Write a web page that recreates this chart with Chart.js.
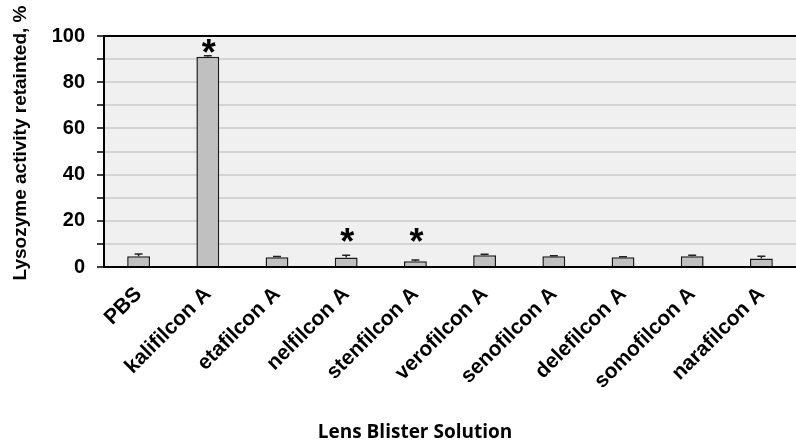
<!DOCTYPE html>
<html>
<head>
<meta charset="utf-8">
<script src="https://cdn.jsdelivr.net/npm/chart.js@4/dist/chart.umd.min.js"></script>
<style>
  html, body { margin: 0; padding: 0; background: #ffffff; }
  #wrap { width: 796px; height: 445px; position: relative; }
</style>
</head>
<body>
<div id="wrap"><canvas id="c" width="796" height="445"></canvas></div>
<script>
// ---- data ----
const categories = ['PBS', 'kalifilcon A', 'etafilcon A', 'nelfilcon A', 'stenfilcon A',
  'verofilcon A', 'senofilcon A', 'delefilcon A', 'somofilcon A', 'narafilcon A'];
const activityRetained = [4.7, 91.0, 4.2, 4.1, 2.5, 5.1, 4.7, 4.2, 4.7, 3.7];
const errorValues = [0.9, 0.4, 0.3, 1.0, 0.5, 0.4, 0.2, 0.2, 0.4, 1.0];
const significanceMarks = [null, 95.2, null, 13.6, 13.6, null, null, null, null, null];
const yTicks = [0, 20, 40, 60, 80, 100];
const xTitle = 'Lens Blister Solution';
const yTitle = 'Lysozyme activity retainted, %';

const plotBg = {
  id: 'plotBg',
  beforeDraw(chart) {
    const { ctx, chartArea: a } = chart;
    ctx.save();
    ctx.fillStyle = '#f0f0f0';
    ctx.fillRect(a.left, a.top, a.right - a.left, a.bottom - a.top);
    ctx.restore();
  }
};

const errorBars = {
  id: 'errorBars',
  afterDatasetsDraw(chart) {
    const { ctx } = chart;
    const meta = chart.getDatasetMeta(0);
    const y = chart.scales.y;
    ctx.save();
    ctx.strokeStyle = '#222';
    ctx.lineWidth = 1.5;
    meta.data.forEach((bar, i) => {
      const v = activityRetained[i], e = errorValues[i];
      const y0 = y.getPixelForValue(v), y1 = y.getPixelForValue(v + e);
      ctx.beginPath();
      ctx.moveTo(bar.x, y0); ctx.lineTo(bar.x, y1);
      ctx.moveTo(bar.x - 4, y1); ctx.lineTo(bar.x + 4, y1);
      ctx.stroke();
    });
    ctx.restore();
  }
};

const stars = {
  id: 'stars',
  afterDatasetsDraw(chart) {
    const { ctx } = chart;
    const meta = chart.getDatasetMeta(0);
    const y = chart.scales.y;
    ctx.save();
    ctx.fillStyle = '#000';
    ctx.font = 'bold 36px "Liberation Sans", Arial, sans-serif';
    ctx.textAlign = 'center';
    ctx.textBaseline = 'alphabetic';
    meta.data.forEach((bar, i) => {
      const m = significanceMarks[i];
      if (m == null) return;
      ctx.fillText('*', bar.x + 1, y.getPixelForValue(m) + 36 * 0.5);
    });
    ctx.restore();
  }
};

const titles = {
  id: 'titles',
  afterDraw(chart) {
    const { ctx } = chart;
    ctx.save();
    ctx.fillStyle = '#000';
    ctx.textAlign = 'center';
    ctx.textBaseline = 'alphabetic';
    ctx.font = 'bold 19px "Open Sans", "Noto Sans", sans-serif';
    ctx.fillText(xTitle, 415, 438);
    ctx.translate(26, 143);
    ctx.rotate(-Math.PI / 2);
    ctx.font = 'bold 19px "Liberation Sans", Arial, sans-serif';
    ctx.fillText(yTitle, 0, 0);
    ctx.restore();
  }
};

new Chart(document.getElementById('c'), {
  type: 'bar',
  data: {
    labels: categories,
    datasets: [{
      data: activityRetained,
      backgroundColor: '#c0c0c0',
      borderColor: '#1a1a1a',
      borderWidth: 1.5,
      barPercentage: 0.33,
      categoryPercentage: 1.0
    }]
  },
  options: {
    responsive: false,
    animation: false,
    layout: { padding: { top: 36, right: 0, left: 0, bottom: 0 } },
    plugins: { legend: { display: false }, tooltip: { enabled: false } },
    scales: {
      x: {
        grid: { display: false },
        border: { display: true, color: '#000', width: 2 },
        ticks: {
          autoSkip: false, minRotation: 45, maxRotation: 45, padding: 7,
          color: '#000', font: { family: '"Liberation Sans", Arial, sans-serif', size: 21, weight: 'bold' }
        },
        afterFit(scale) { scale.height = 178; }
      },
      y: {
        min: 0, max: 100,
        ticks: {
          stepSize: 10, padding: 12, color: '#000', autoSkip: false,
          font: { family: '"Liberation Sans", Arial, sans-serif', size: 20, weight: 'bold' },
          callback: (v) => yTicks.includes(v) ? String(v) : ''
        },
        grid: {
          display: true,
          drawOnChartArea: true,
          color: (c) => (c.tick && c.tick.value === 100) ? '#000000' : '#d4d4d4',
          lineWidth: 2,
          tickColor: '#000', tickWidth: 1.5, tickLength: 7
        },
        border: { display: true, color: '#000', width: 2 },
        title: { display: false },
        afterFit(scale) { scale.width = 104; }
      }
    }
  },
  plugins: [plotBg, errorBars, stars, titles]
});
</script>
</body>
</html>
